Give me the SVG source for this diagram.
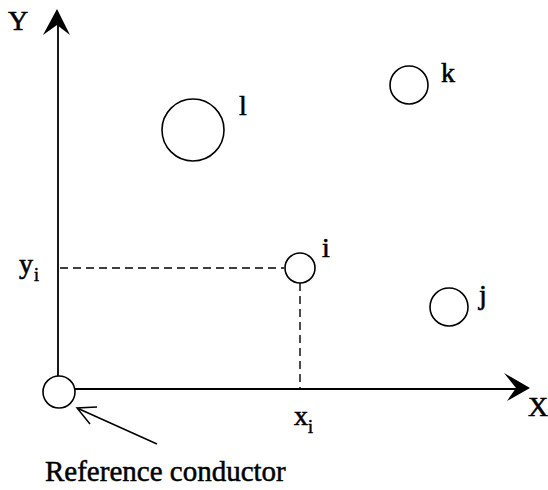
<svg xmlns="http://www.w3.org/2000/svg" width="548" height="490" viewBox="0 0 548 490">
<style>
.c{fill:none;stroke:#000;stroke-width:1.6}
.ln{fill:none;stroke:#000;stroke-width:1.8}
.ptr{fill:none;stroke:#000;stroke-width:1.5}
.d{fill:none;stroke:#000;stroke-width:1.4;stroke-dasharray:8 5}
.ah{fill:#000;stroke:none}
.t{font-family:'Liberation Serif',serif;font-size:28px;fill:#000;stroke:#000;stroke-width:0.6}
.s{font-family:'Liberation Serif',serif;font-size:18px;fill:#000;stroke:#000;stroke-width:0.5}
</style>
<rect width="548" height="490" fill="#fff"/>
<g id="connectors">
<line class="ln" x1="58" y1="376" x2="58" y2="20"/>
<path class="ah" d="M57,9 L70,35 L57,25 L43,35 Z"/>
<line class="ln" x1="75" y1="389" x2="520" y2="389"/>
<path class="ah" d="M530,388 L504,373 L516,388 L507,401 Z"/>
<line class="d" x1="60" y1="268" x2="284" y2="268"/>
<line class="d" x1="300" y1="283" x2="300" y2="388"/>
<path class="ptr" d="M157,444 L77,408 M97,407 L77,408 L90,424"/>
</g>
<g id="axis-y-label"><text class="t" x="8" y="30">Y</text></g>
<g id="axis-x-label"><text class="t" x="528" y="416">X</text></g>
<g id="node-ref"><circle class="c" cx="59" cy="392" r="16"/></g>
<g id="node-l"><circle class="c" cx="193" cy="130" r="31"/><text class="t" x="239" y="115">l</text></g>
<g id="node-k"><circle class="c" cx="409" cy="85" r="19"/><text class="t" x="441" y="82">k</text></g>
<g id="node-i"><circle class="c" cx="300" cy="268" r="15"/><text class="t" x="322" y="257">i</text></g>
<g id="node-j"><circle class="c" cx="449" cy="307" r="19"/><text class="t" x="479" y="304">j</text></g>
<g id="label-xi"><text class="t" x="294" y="425">x</text><text class="s" x="308" y="433">i</text></g>
<g id="label-yi"><text class="t" x="19" y="273">y</text><text class="s" x="34" y="281">i</text></g>
<g id="label-ref"><text class="t" style="font-size:29px;stroke-width:0.5" x="45" y="481">Reference conductor</text></g>
</svg>
